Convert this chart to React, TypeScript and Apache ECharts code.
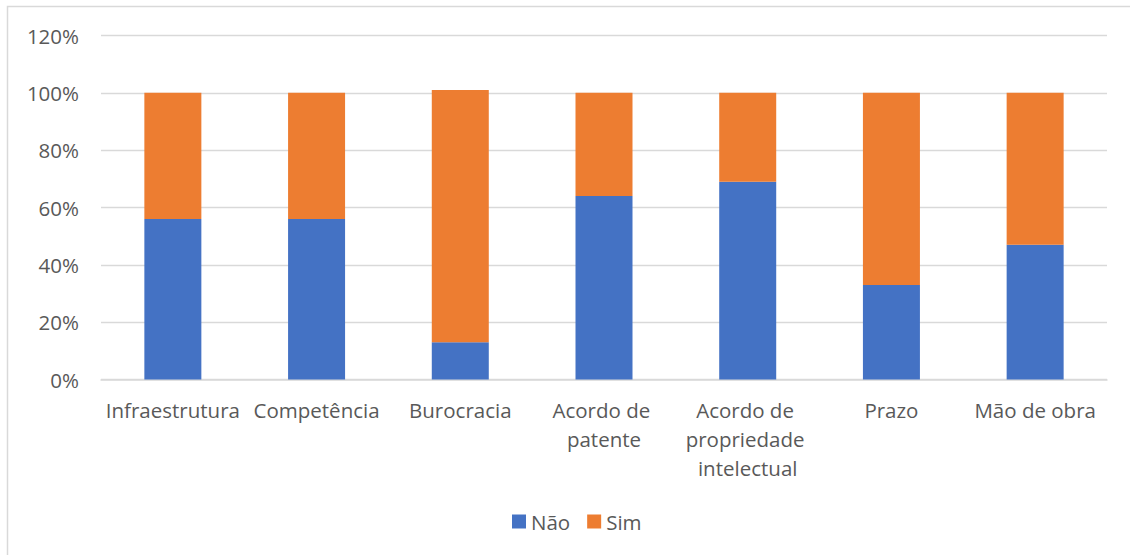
import React, { useEffect, useRef } from "react";
import * as echarts from "echarts";

// Categories and stacked percentage shares
const categories = [
  "Infraestrutura",
  "Competência",
  "Burocracia",
  "Acordo de patente",
  "Acordo de propriedade intelectual",
  "Prazo",
  "Mão de obra",
];
const naoValues = [56, 56, 13, 64, 69, 33, 47];
const simValues = [44, 44, 88, 36, 31, 67, 53];
const yTicks = { min: 0, max: 120, interval: 20 };

const FONT = "'Open Sans', 'Noto Sans', sans-serif";
const TEXT = "#595959";
const GRID_LINE = "#d9d9d9";

export default function App() {
  const ref = useRef<HTMLDivElement>(null);

  useEffect(() => {
    if (!ref.current) return;
    const chart = echarts.init(ref.current, undefined, { renderer: "svg" });
    chart.setOption({
      animation: false,
      backgroundColor: "#ffffff",
      textStyle: { fontFamily: FONT },
      graphic: [
        {
          type: "rect",
          shape: { x: 7.5, y: 6.5, width: 1200, height: 700 },
          style: { fill: "none", stroke: GRID_LINE, lineWidth: 1.5 },
          silent: true,
          z: -1,
        },
      ],
      grid: { left: 101, right: 23, top: 35.5, bottom: 175.5 },
      legend: {
        bottom: 18,
        left: 507,
        icon: "rect",
        itemWidth: 14,
        itemHeight: 14,
        itemGap: 17,
        textStyle: { fontFamily: FONT, fontSize: 20.5, color: TEXT },
        data: ["Não", "Sim"],
      },
      xAxis: {
        type: "category",
        data: categories,
        axisTick: { show: false },
        axisLine: { lineStyle: { color: GRID_LINE, width: 1.5 } },
        axisLabel: {
          interval: 0,
          margin: 16,
          fontFamily: FONT,
          fontSize: 20.5,
          color: TEXT,
          lineHeight: 29,
          width: 140,
          overflow: "break",
        },
      },
      yAxis: {
        type: "value",
        min: yTicks.min,
        max: yTicks.max,
        interval: yTicks.interval,
        axisLine: { show: false },
        axisTick: { show: false },
        splitLine: { lineStyle: { color: GRID_LINE, width: 1.3 } },
        axisLabel: {
          formatter: "{value}%",
          margin: 22,
          fontFamily: FONT,
          fontSize: 20.5,
          color: TEXT,
        },
      },
      series: [
        {
          name: "Não",
          type: "bar",
          stack: "total",
          data: naoValues,
          barWidth: 57,
          itemStyle: { color: "#4472C4" },
        },
        {
          name: "Sim",
          type: "bar",
          stack: "total",
          data: simValues,
          barWidth: 57,
          itemStyle: { color: "#ED7D31" },
        },
      ],
    });
    return () => chart.dispose();
  }, []);

  return (
    <div
      ref={ref}
      style={{ position: "absolute", left: 0, top: 0, width: 1130, height: 555 }}
    />
  );
}
